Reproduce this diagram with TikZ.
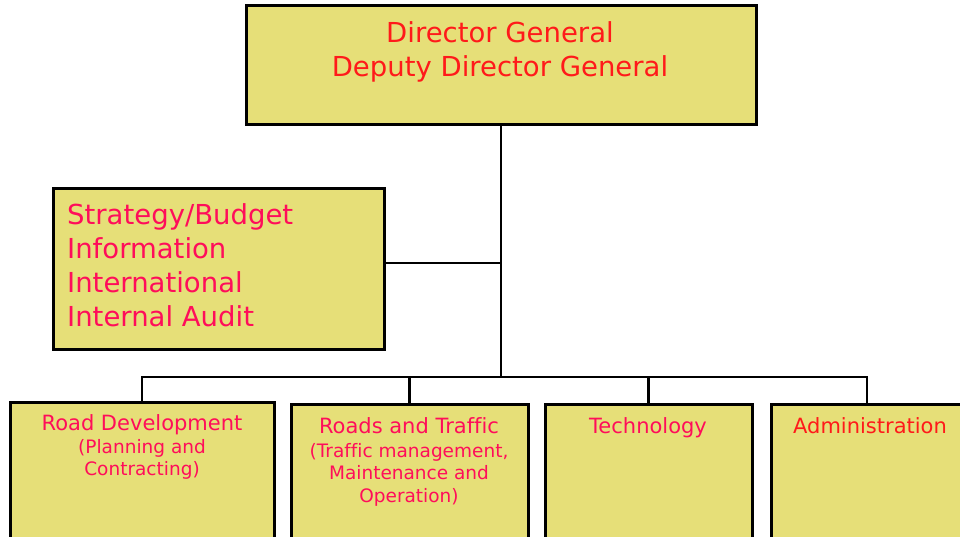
\documentclass[tikz,border=0pt]{standalone}
\usepackage{fontspec}
\setmainfont{DejaVu Sans}[Ligatures=NoCommon]
\definecolor{boxfill}{HTML}{E6DF78}
\definecolor{redtext}{HTML}{FF1A1A}
\definecolor{pinktext}{HTML}{FF0D5A}
\newcommand\OrgBox[5]{
	\node [box, minimum width=#4pt, minimum height=#5pt] (#1) at (#2,#3){};
}
\tikzset{
	box/.style={draw=black, line width=3pt, fill=boxfill, anchor=north west, inner sep=0pt, outer sep=0pt},
	wire/.style={draw=black, line width=2.2pt},
	bigtext/.style={font=\fontsize{27.5}{34}\selectfont, inner sep=0pt},
	headtext/.style={font=\fontsize{21}{24}\selectfont, inner sep=0pt, anchor=north, align=center},
	subtext/.style={font=\fontsize{18.5}{22.5}\selectfont, inner sep=0pt, anchor=north, align=center, text=pinktext}
}

\begin{document}
\begin{tikzpicture}[x=1pt, y=-1pt]
	\useasboundingbox (0,0) rectangle (960,537);
	% boxes
	\OrgBox{dg}{246}{6}{510}{119}
	\OrgBox{staff}{53}{189}{331}{160}
	\OrgBox{rd}{10}{402}{264}{200}
	\OrgBox{rt}{291}{404}{237}{200}
	\OrgBox{tech}{545}{404}{207}{200}
	\OrgBox{adm}{771}{404}{192}{200}
	% texts
	\node [bigtext, text=redtext, anchor=north, align=center] (dgtext) at (500,21) {Director General\\Deputy Director General};
	\node [bigtext, text=pinktext, anchor=north west, align=left] (stafftext) at (67,203) {Strategy/Budget\\Information\\International\\Internal Audit};
	\node [headtext, text=pinktext] (rdhead) at (142,414) {Road Development};
	\node [subtext] (rdsub) at (142,439) {(Planning and\\Contracting)};
	\node [headtext, text=pinktext] (rthead) at (409,417) {Roads and Traffic};
	\node [subtext] (rtsub) at (409,443) {(Traffic management,\\Maintenance and\\Operation)};
	\node [headtext, text=pinktext] (techhead) at (648,417) {Technology};
	\node [headtext, text=redtext] (admhead) at (870,417) {Administration};
	% connectors
	\coordinate (split) at (501,263);
	\coordinate (bus) at (501,377);
	\draw [wire] (dg.south) -- (bus);
	\draw [wire] (split) -- (split -| staff.east);
	\draw [wire] (rd.north) -- (rd.north |- bus) -- (adm.north |- bus) -- (adm.north);
	\foreach \b in {rt,tech}
	{
		\draw [wire] (\b.north) -- (\b.north |- bus);
	}
\end{tikzpicture}
\end{document}
